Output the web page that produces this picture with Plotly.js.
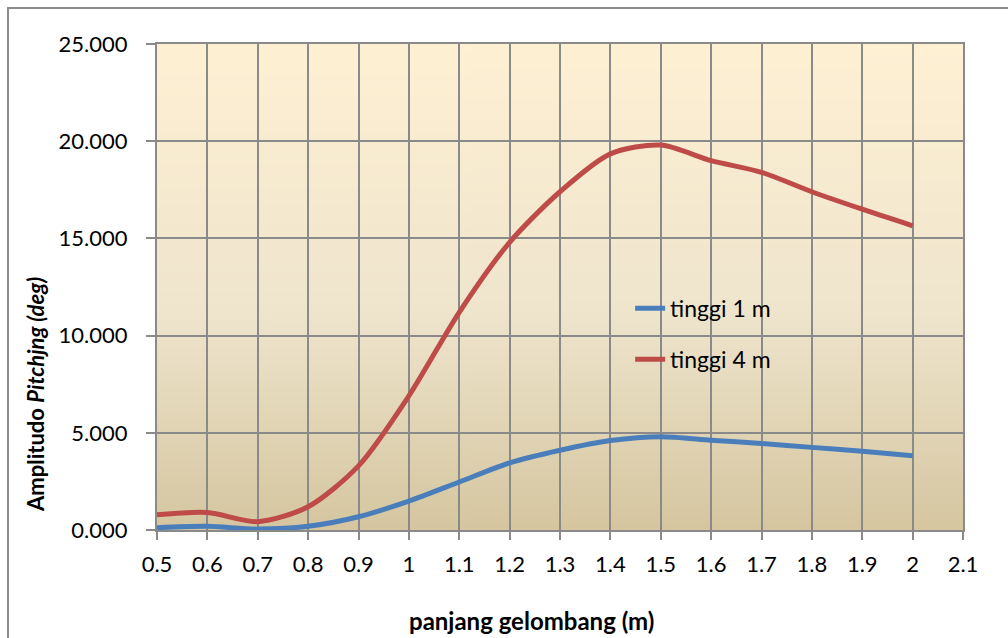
<!DOCTYPE html>
<html>
<head>
<meta charset="utf-8">
<script src="https://cdn.plot.ly/plotly-3.0.1.min.js"></script>
<style>
  html, body { margin: 0; padding: 0; background: #fff; overflow: hidden; }
  #chart { width: 1008px; height: 638px; position: relative; }
  #frame { position: absolute; left: 7px; top: 7px; width: 1020px; height: 660px;
           border: 2px solid #8c8c8c; pointer-events: none; box-sizing: border-box; }
</style>
</head>
<body>
<div id="chart"></div>
<div id="frame"></div>
<script>
// Data
const panjang = [0.5, 0.6, 0.7, 0.8, 0.9, 1.0, 1.1, 1.2, 1.3, 1.4, 1.5, 1.6, 1.7, 1.8, 1.9, 2.0];
const tinggi1 = [0.12, 0.19, 0.05, 0.19, 0.68, 1.49, 2.47, 3.45, 4.1, 4.6, 4.8, 4.62, 4.45, 4.25, 4.05, 3.82];
const tinggi4 = [0.78, 0.9, 0.43, 1.2, 3.3, 6.9, 11.2, 14.8, 17.4, 19.35, 19.8, 19.0, 18.4, 17.4, 16.5, 15.65];
const seriesNames = ["tinggi 1 m", "tinggi 4 m"];
const xTicks = [0.5, 0.6, 0.7, 0.8, 0.9, 1, 1.1, 1.2, 1.3, 1.4, 1.5, 1.6, 1.7, 1.8, 1.9, 2, 2.1];
const xTickText = ["0.5", "0.6", "0.7", "0.8", "0.9", "1", "1.1", "1.2", "1.3", "1.4", "1.5", "1.6", "1.7", "1.8", "1.9", "2", "2.1"];
const yTicks = [0, 5, 10, 15, 20, 25];
const xTitle = "panjang gelombang (m)";
const yTitle = "Amplitudo <i>Pitchjng (deg)</i>";

// gradient background image
const cv = document.createElement('canvas');
cv.width = 4; cv.height = 256;
const ctx = cv.getContext('2d');
const g = ctx.createLinearGradient(0, 0, 0, 256);
g.addColorStop(0, '#fef0d3');
g.addColorStop(0.55, '#efe5cd');
g.addColorStop(1, '#d5c6a0');
ctx.fillStyle = g;
ctx.fillRect(0, 0, 4, 256);
const bgUrl = cv.toDataURL();

const font = "Lato, 'Open Sans', 'Liberation Sans', sans-serif";
const gridCol = '#8a8a8a';

const traces = [
  { x: panjang, y: tinggi1, name: seriesNames[0], mode: 'lines', legendgroup: 'a',
    line: { color: '#4a7ebb', width: 5, shape: 'spline', smoothing: 0.8 } },
  { x: panjang, y: tinggi4, name: seriesNames[1], mode: 'lines', legendgroup: 'b',
    line: { color: '#be4b48', width: 5, shape: 'spline', smoothing: 0.8 } }
];

const layout = {
  width: 1008, height: 638,
  margin: { l: 157, r: 45, t: 44, b: 108 },
  paper_bgcolor: 'rgba(0,0,0,0)',
  plot_bgcolor: 'rgba(0,0,0,0)',
  font: { family: font, size: 23, color: '#000' },
  showlegend: true,
  legend: { x: 0.587, y: 0.307, xanchor: 'left', yanchor: 'bottom',
            bgcolor: 'rgba(0,0,0,0)', tracegroupgap: 18,
            font: { family: font, size: 23, color: '#000' } },
  images: [{ source: bgUrl, xref: 'paper', yref: 'paper', x: 0, y: 1, sizex: 1, sizey: 1,
             sizing: 'stretch', layer: 'below' }],
  xaxis: {
    range: [0.5, 2.1], tickmode: 'array', tickvals: xTicks, ticktext: xTickText,
    showgrid: true, gridcolor: gridCol, gridwidth: 2,
    showline: true, linecolor: gridCol, linewidth: 2, mirror: true,
    ticks: 'outside', ticklen: 8, tickwidth: 2, tickcolor: gridCol,
    ticklabelstandoff: 6,
    zeroline: false, tickfont: { size: 22 }
  },
  yaxis: {
    range: [0, 25], tickmode: 'array', tickvals: yTicks, tickformat: '.3f',
    showgrid: true, gridcolor: gridCol, gridwidth: 2,
    showline: true, linecolor: gridCol, linewidth: 2, mirror: true,
    ticks: 'outside', ticklen: 9, tickwidth: 2, tickcolor: gridCol,
    ticklabelstandoff: 14,
    zeroline: false, tickfont: { size: 22 }
  },
  annotations: [
    { text: '<b>' + xTitle + '</b>', xref: 'paper', yref: 'paper',
      x: (531 - 157) / 806, y: -(620 - 530) / 486, xanchor: 'center', yanchor: 'middle',
      showarrow: false, font: { size: 24 } },
    { text: '<b>' + yTitle + '</b>', xref: 'paper', yref: 'paper', textangle: -90,
      x: (35 - 157) / 806, y: (530 - 394) / 486, xanchor: 'center', yanchor: 'middle',
      showarrow: false, font: { size: 22 } }
  ]
};

Plotly.newPlot('chart', traces, layout, { displayModeBar: false, staticPlot: true });
</script>
</body>
</html>
